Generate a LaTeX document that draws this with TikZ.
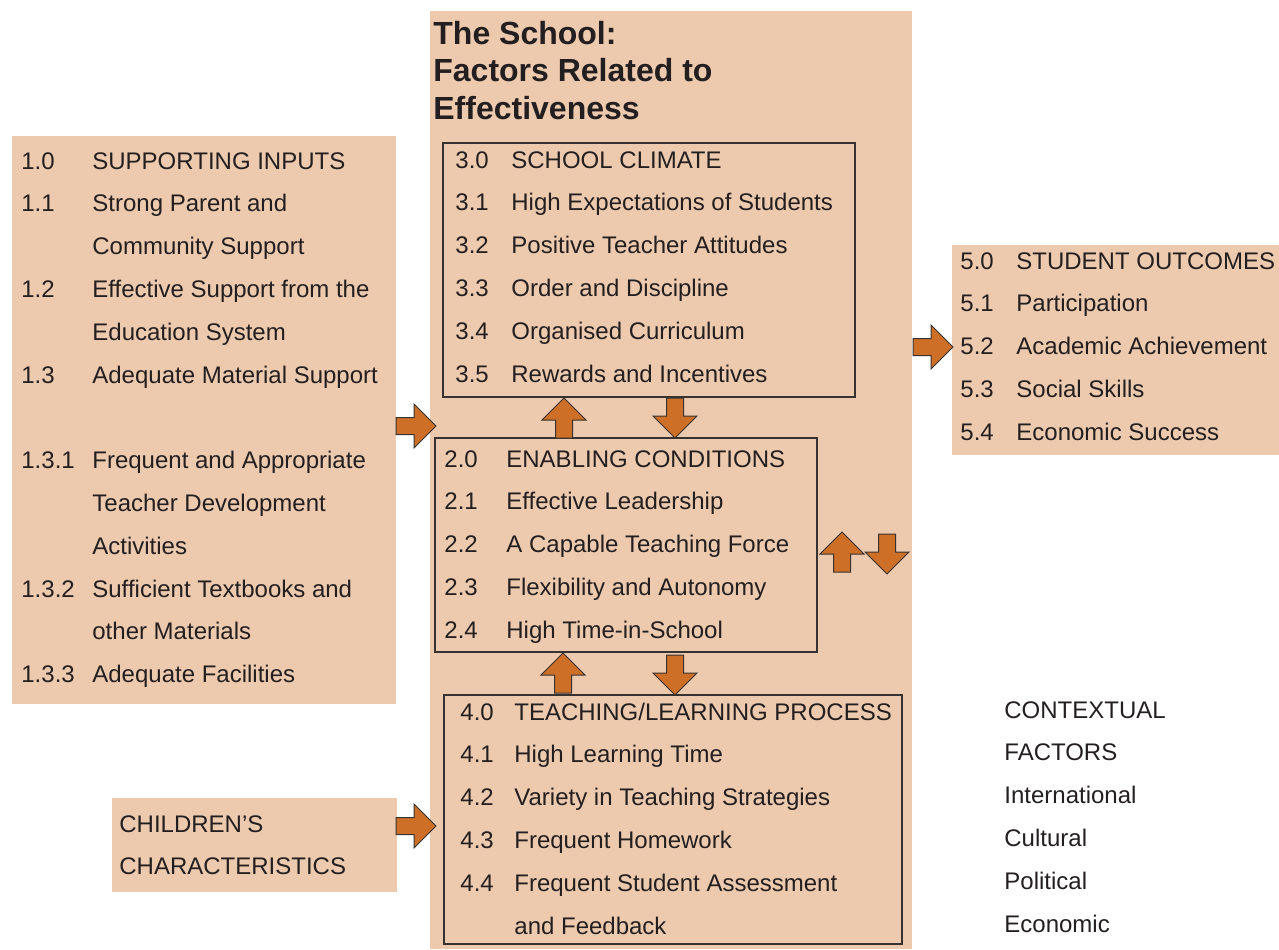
\documentclass[tikz,border=0pt]{standalone}
\usepackage{fontspec}
\setmainfont{Liberation Sans}
\usepackage{array}

\definecolor{peach}{RGB}{237,202,174}
\definecolor{rust}{RGB}{205,111,39}
\definecolor{ink}{RGB}{35,31,32}
\definecolor{edge}{RGB}{55,50,50}

\newcommand{\itemfont}{\fontsize{12}{21.4}\selectfont}
\newcommand{\headfont}{\fontsize{16}{18.75}\selectfont\bfseries}

\tikzset{
    panel/.style={fill=peach},
    frame/.style={draw=edge, line width=0.7pt},
    list/.style={anchor=base west, inner sep=0pt, text=ink, font=\itemfont},
    blockarrow/.pic={
        \filldraw[fill=rust, draw=edge, line width=0.5pt] (0,-8.5) -- (18,-8.5) -- (18,-22) -- (40,0) -- (18,22) -- (18,8.5) -- (0,8.5) -- cycle;
    }
}

\begin{document}
\begin{tikzpicture}[x=0.5pt, y=-0.5pt]

    \useasboundingbox (0,0) rectangle (1279,949);

    \fill[panel]  (430,11) rectangle (912,949);
    \fill[panel]  (12,136) rectangle (396,704);
    \fill[panel]  (112,798) rectangle (397,892);
    \fill[panel]  (952,245) rectangle (1279,455);

    \draw[frame]  (443,143) rectangle (855,397);
    \draw[frame]  (435,438) rectangle (817,652);
    \draw[frame]  (444,695) rectangle (902,944);
    
    
    \node[list, font=\headfont] (title) at (433,44) {\begin{tabular}[t]{@{}l@{}}
        The School:\\ Factors Related to\\ Effectiveness
    \end{tabular}};
    
    \node[list] (inputs) at (21,169) {\begin{tabular}[t]{@{}p{35.5pt}@{}l@{}}
        1.0 & SUPPORTING INPUTS\\
        1.1 & Strong Parent and\\
            & Community Support\\
        1.2 & Effective Support from the\\
            & Education System\\
        1.3 & Adequate Material Support\\
            & \\
        1.3.1 & Frequent and Appropriate\\
            & Teacher Development\\
            & Activities\\
        1.3.2 & Sufficient Textbooks and\\
            & other Materials\\
        1.3.3 & Adequate Facilities
    \end{tabular}};
    
    \node[list] (climate) at (455,168) {\begin{tabular}[t]{@{}p{28pt}@{}l@{}}
        3.0 & SCHOOL CLIMATE\\
        3.1 & High Expectations of Students\\
        3.2 & Positive Teacher Attitudes\\
        3.3 & Order and Discipline\\
        3.4 & Organised Curriculum\\
        3.5 & Rewards and Incentives
    \end{tabular}};
    
    \node[list] (enabling) at (444,467) {\begin{tabular}[t]{@{}p{31pt}@{}l@{}}
        2.0 & ENABLING CONDITIONS\\
        2.1 & Effective Leadership\\
        2.2 & A Capable Teaching Force\\
        2.3 & Flexibility and Autonomy\\
        2.4 & High Time-in-School
    \end{tabular}};
    
    \node[list] (teaching) at (460,720) {\begin{tabular}[t]{@{}p{27pt}@{}l@{}}
        4.0 & TEACHING/LEARNING PROCESS\\
        4.1 & High Learning Time\\
        4.2 & Variety in Teaching Strategies\\
        4.3 & Frequent Homework\\
        4.4 & Frequent Student Assessment\\
            & and Feedback
    \end{tabular}};
    
    \node[list] (outcomes) at (960,269) {\begin{tabular}[t]{@{}p{28pt}@{}l@{}}
        5.0 & STUDENT OUTCOMES\\
        5.1 & Participation\\
        5.2 & Academic Achievement\\
        5.3 & Social Skills\\
        5.4 & Economic Success
    \end{tabular}};
    
    \node[list] (children) at (119,832) {\begin{tabular}[t]{@{}l@{}}
        CHILDREN’S\\ CHARACTERISTICS
    \end{tabular}};
    
    \node[list] (context) at (1004,718) {\begin{tabular}[t]{@{}l@{}}
        CONTEXTUAL\\ FACTORS\\ International\\ Cultural\\ Political\\ Economic
    \end{tabular}};
    
    
    \pic at (396,426) {blockarrow};
    \pic at (396,826) {blockarrow};
    \pic at (913,347) {blockarrow};
    
    \pic[rotate=90]  at (564,438) {blockarrow};
    \pic[rotate=-90] at (675,398) {blockarrow};
    \pic[rotate=90]  at (563,693) {blockarrow};
    \pic[rotate=-90] at (675,655) {blockarrow};
    \pic[rotate=90]  at (842,572) {blockarrow};
    \pic[rotate=-90] at (887,534) {blockarrow};
    
\end{tikzpicture}
\end{document}
